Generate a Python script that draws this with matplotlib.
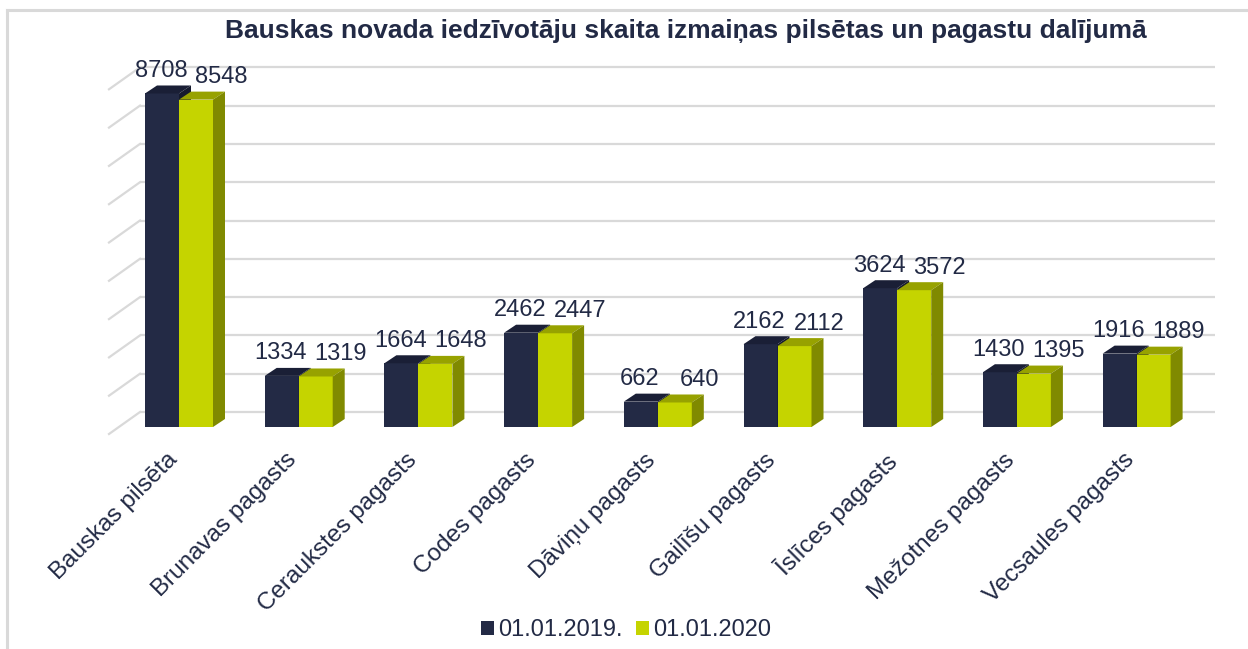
import matplotlib
matplotlib.use("Agg")
import matplotlib.pyplot as plt
from matplotlib.patches import Polygon, Patch
from matplotlib.lines import Line2D

plt.rcParams['font.family'] = ['Liberation Sans', 'DejaVu Sans']

# ---------------- data ----------------
categories = ["Bauskas pilsēta", "Brunavas pagasts", "Ceraukstes pagasts",
              "Codes pagasts", "Dāviņu pagasts", "Gailīšu pagasts",
              "Īslīces pagasts", "Mežotnes pagasts", "Vecsaules pagasts"]
series_names = ["01.01.2019.", "01.01.2020"]
values_2019 = [8708, 1334, 1664, 2462, 662, 2162, 3624, 1430, 1916]
values_2020 = [8548, 1319, 1648, 2447, 640, 2112, 3572, 1395, 1889]
grid_values = [0, 1000, 2000, 3000, 4000, 5000, 6000, 7000, 8000, 9000]

# ---------------- styles ----------------
W, H = 1248, 649
TEXT = "#222A45"
DARK = "#232A45"
DARK_TOP = "#1A1F36"
DARK_SIDE = "#151a2e"
GREEN = "#C5D400"
GREEN_TOP = "#97A200"
GREEN_SIDE = "#808A00"
GRID = "#D9D9D9"

# pixel geometry -> data units
px_per_cat = 119.7          # pixels per category
px_per_val = 38.3 / 1000    # pixels per value unit
x0_px = 179                 # pixel x of category 0 (between the two bars)
base_px = 427               # pixel y (from top) of value 0, bars' front

def dxu(px):
    return px / px_per_cat

def dyu(px):
    return px / px_per_val

fig = plt.figure(figsize=(W / 100, H / 100), dpi=100)
ax = fig.add_axes([0, 0, 1, 1])
ax.set_xlim(-x0_px / px_per_cat, (W - x0_px) / px_per_cat)
ax.set_ylim(-(H - base_px) / px_per_val, base_px / px_per_val)
ax.axis("off")

bw = dxu(34)            # bar width
ddx, ddy = dxu(12), dyu(8)          # bar depth offset
wall_dx, wall_dy = dxu(21), dyu(15)  # back wall offset
front_dx, front_dy = dxu(-10), dyu(-7)  # floor front edge offset
n = len(categories)
wall_left = (140 - x0_px) / px_per_cat
wall_right = (1215 - x0_px) / px_per_cat

# back wall gridlines and left-wall diagonals
for g in grid_values:
    ax.plot([wall_left, wall_right], [g + wall_dy, g + wall_dy],
            color=GRID, lw=1.6, zorder=1, solid_capstyle="butt")
    ax.plot([wall_left - (wall_dx - front_dx), wall_left],
            [g + front_dy, g + wall_dy], color=GRID, lw=1.6, zorder=1)

def draw_bar(xl, v, front, top, side, z):
    ax.bar([xl], [v], width=bw, align="edge", color=front, zorder=z, linewidth=0)
    ax.add_patch(Polygon([(xl, v), (xl + bw, v), (xl + bw + ddx, v + ddy),
                          (xl + ddx, v + ddy)], closed=True, facecolor=top,
                         edgecolor="none", zorder=z))
    ax.add_patch(Polygon([(xl + bw, 0), (xl + bw + ddx, ddy),
                          (xl + bw + ddx, v + ddy), (xl + bw, v)], closed=True,
                         facecolor=side, edgecolor="none", zorder=z))

label_gap = dyu(16.5)
for i in range(n):
    v1, v2 = values_2019[i], values_2020[i]
    draw_bar(i - bw, v1, DARK, DARK_TOP, DARK_SIDE, 3 + 2 * i)
    draw_bar(i, v2, GREEN, GREEN_TOP, GREEN_SIDE, 4 + 2 * i)
    ax.text(i - bw / 2 - dxu(1), v1 + label_gap, f"{v1}", ha="center",
            va="baseline", fontsize=17, color=TEXT, zorder=50)
    ax.text(i + bw / 2 + dxu(25), v2 + label_gap, f"{v2}", ha="center",
            va="baseline", fontsize=17, color=TEXT, zorder=50)
    ax.text(i - dxu(13), -dyu(22), categories[i], rotation=45, ha="right",
            va="top", rotation_mode="anchor", fontsize=17.5, color=TEXT)

# title
fig.text(686 / W, 1 - 31 / H,
         "Bauskas novada iedzīvotāju skaita izmaiņas pilsētas un pagastu dalījumā",
         ha="center", va="center", fontsize=19, fontweight="bold", color=TEXT)

# legend
handles = [Patch(facecolor=DARK, edgecolor="none"),
           Patch(facecolor=GREEN, edgecolor="none")]
fig.legend(handles, series_names, loc="center", ncol=2,
           bbox_to_anchor=(626 / W, 1 - 630 / H), frameon=False, fontsize=17,
           handlelength=0.55, handleheight=0.55, handletextpad=0.2,
           columnspacing=0.55, labelcolor=TEXT, borderpad=0)

# outer frame (top and left border)
fig.add_artist(Line2D([6.5 / W, 1.0], [1 - 9.5 / H, 1 - 9.5 / H],
                      transform=fig.transFigure, color=GRID, lw=2.2))
fig.add_artist(Line2D([6.5 / W, 6.5 / W], [0, 1 - 9.5 / H],
                      transform=fig.transFigure, color=GRID, lw=2.2))

fig.savefig("out.png", dpi=100)
